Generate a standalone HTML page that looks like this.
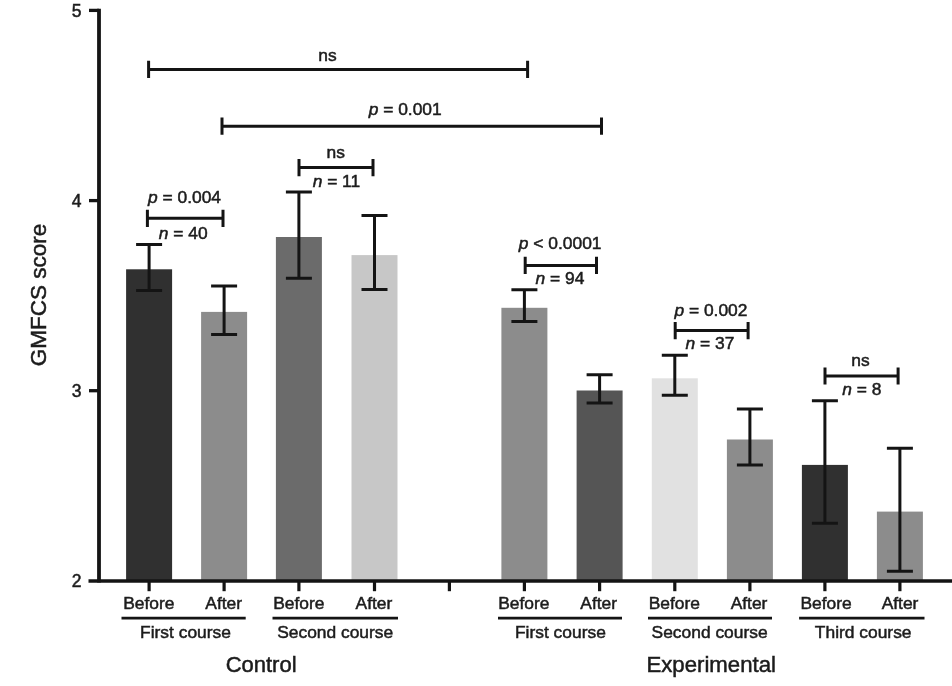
<!DOCTYPE html>
<html><head><meta charset="utf-8"><title>GMFCS score</title>
<style>
html,body{margin:0;padding:0;background:#fff;}
body{width:952px;height:686px;overflow:hidden;}
svg{display:block;}
text{font-family:"Liberation Sans",Arial,sans-serif;fill:#1c1c1c;stroke:#1c1c1c;stroke-width:0.5;}
.l{stroke:#141414;fill:none;}
</style></head><body>
<svg width="952" height="686" viewBox="0 0 952 686">
<rect width="952" height="686" fill="#fff"/>

<rect x="126.1" y="269.3" width="46" height="311.7" fill="#303030"/>
<rect x="201.1" y="311.9" width="46" height="269.1" fill="#8c8c8c"/>
<rect x="275.9" y="237.0" width="46" height="344.0" fill="#6b6b6b"/>
<rect x="351.5" y="255.1" width="46" height="325.9" fill="#c7c7c7"/>
<rect x="501.4" y="307.8" width="46" height="273.2" fill="#8c8c8c"/>
<rect x="576.6" y="390.5" width="46" height="190.5" fill="#555555"/>
<rect x="651.8" y="378.3" width="46" height="202.7" fill="#e1e1e1"/>
<rect x="726.9" y="439.5" width="46" height="141.5" fill="#8c8c8c"/>
<rect x="801.9" y="464.9" width="46" height="116.1" fill="#303030"/>
<rect x="876.9" y="511.6" width="46" height="69.4" fill="#8c8c8c"/>
<path class="l" d="M149.1 244.5V290.5M136.1 244.5H162.1M136.1 290.5H162.1" stroke-width="3"/>
<path class="l" d="M224.1 285.9V334.6M211.1 285.9H237.1M211.1 334.6H237.1" stroke-width="3"/>
<path class="l" d="M298.9 192.1V278.3M285.9 192.1H311.9M285.9 278.3H311.9" stroke-width="3"/>
<path class="l" d="M374.5 215.4V289.5M361.5 215.4H387.5M361.5 289.5H387.5" stroke-width="3"/>
<path class="l" d="M524.4 289.7V321.6M511.4 289.7H537.4M511.4 321.6H537.4" stroke-width="3"/>
<path class="l" d="M599.6 374.7V403.1M586.6 374.7H612.6M586.6 403.1H612.6" stroke-width="3"/>
<path class="l" d="M674.8 355.3V395.3M661.8 355.3H687.8M661.8 395.3H687.8" stroke-width="3"/>
<path class="l" d="M749.9 408.9V465.1M736.9 408.9H762.9M736.9 465.1H762.9" stroke-width="3"/>
<path class="l" d="M824.9 400.8V523.2M811.9 400.8H837.9M811.9 523.2H837.9" stroke-width="3"/>
<path class="l" d="M899.9 448.3V571.3M886.9 448.3H912.9M886.9 571.3H912.9" stroke-width="3"/>
<path class="l" d="M99 8.7V582.6" stroke-width="3.8"/>
<path class="l" d="M88.5 581.0H952" stroke-width="3.6"/>
<path class="l" d="M89 10.4H99" stroke-width="3.3"/>
<path class="l" d="M89 200.6H99" stroke-width="3.3"/>
<path class="l" d="M89 390.7H99" stroke-width="3.3"/>
<path class="l" d="M149.1 581.0V591.2" stroke-width="3.2"/>
<path class="l" d="M224.1 581.0V591.2" stroke-width="3.2"/>
<path class="l" d="M298.9 581.0V591.2" stroke-width="3.2"/>
<path class="l" d="M374.5 581.0V591.2" stroke-width="3.2"/>
<path class="l" d="M449.4 581.0V591.2" stroke-width="3.2"/>
<path class="l" d="M524.4 581.0V591.2" stroke-width="3.2"/>
<path class="l" d="M599.6 581.0V591.2" stroke-width="3.2"/>
<path class="l" d="M674.8 581.0V591.2" stroke-width="3.2"/>
<path class="l" d="M749.9 581.0V591.2" stroke-width="3.2"/>
<path class="l" d="M824.9 581.0V591.2" stroke-width="3.2"/>
<path class="l" d="M899.9 581.0V591.2" stroke-width="3.2"/>
<text x="81.6" y="16.5" font-size="17.5" text-anchor="end">5</text>
<text x="81.6" y="206.7" font-size="17.5" text-anchor="end">4</text>
<text x="81.6" y="396.8" font-size="17.5" text-anchor="end">3</text>
<text x="81.6" y="587.1" font-size="17.5" text-anchor="end">2</text>
<text transform="translate(46.4,295.1) rotate(-90)" font-size="22.5" text-anchor="middle">GMFCS score</text>
<path class="l" d="M148.6 69.4H527.6M148.6 60.8V78.0M527.6 60.8V78.0" stroke-width="3"/>
<text x="327.5" y="60.5" font-size="17.4" text-anchor="middle">ns</text>
<path class="l" d="M222.0 126.2H601.5M222.0 117.6V134.8M601.5 117.6V134.8" stroke-width="3"/>
<text x="405.2" y="114.7" font-size="17.4" text-anchor="middle"><tspan font-style="italic">p</tspan> = 0.001</text>
<path class="l" d="M147.4 218.3H223.0M147.4 209.7V226.9M223.0 209.7V226.9" stroke-width="3"/>
<text x="184.5" y="203.0" font-size="17.4" text-anchor="middle"><tspan font-style="italic">p</tspan> = 0.004</text>
<text x="183.2" y="238.7" font-size="17.4" text-anchor="middle"><tspan font-style="italic">n</tspan> = 40</text>
<path class="l" d="M299.0 167.6H373.0M299.0 159.0V176.2M373.0 159.0V176.2" stroke-width="3"/>
<text x="335.7" y="157.5" font-size="17.4" text-anchor="middle">ns</text>
<text x="336.4" y="186.5" font-size="17.4" text-anchor="middle"><tspan font-style="italic">n</tspan> = 11</text>
<path class="l" d="M525.2 265.4H596.5M525.2 256.8V274.0M596.5 256.8V274.0" stroke-width="3"/>
<text x="560.2" y="249.3" font-size="17.4" text-anchor="middle"><tspan font-style="italic">p</tspan> &lt; 0.0001</text>
<text x="559.9" y="284.0" font-size="17.4" text-anchor="middle"><tspan font-style="italic">n</tspan> = 94</text>
<path class="l" d="M675.2 330.6H748.1M675.2 322.0V339.2M748.1 322.0V339.2" stroke-width="3"/>
<text x="710.9" y="315.6" font-size="17.4" text-anchor="middle"><tspan font-style="italic">p</tspan> = 0.002</text>
<text x="709.9" y="349.3" font-size="17.4" text-anchor="middle"><tspan font-style="italic">n</tspan> = 37</text>
<path class="l" d="M825.0 376.0H898.1M825.0 367.4V384.6M898.1 367.4V384.6" stroke-width="3"/>
<text x="860.5" y="365.9" font-size="17.4" text-anchor="middle">ns</text>
<text x="861.8" y="394.9" font-size="17.4" text-anchor="middle"><tspan font-style="italic">n</tspan> = 8</text>
<text x="148.9" y="609.0" font-size="17.4" text-anchor="middle">Before</text>
<text x="223.7" y="609.0" font-size="17.4" text-anchor="middle">After</text>
<text x="298.8" y="609.0" font-size="17.4" text-anchor="middle">Before</text>
<text x="373.9" y="609.0" font-size="17.4" text-anchor="middle">After</text>
<text x="523.9" y="609.0" font-size="17.4" text-anchor="middle">Before</text>
<text x="598.7" y="609.0" font-size="17.4" text-anchor="middle">After</text>
<text x="674.3" y="609.0" font-size="17.4" text-anchor="middle">Before</text>
<text x="749.0" y="609.0" font-size="17.4" text-anchor="middle">After</text>
<text x="826.0" y="609.0" font-size="17.4" text-anchor="middle">Before</text>
<text x="900.0" y="609.0" font-size="17.4" text-anchor="middle">After</text>
<path class="l" d="M121.5 618.1H245.7" stroke-width="2.9"/>
<text x="185.5" y="637.5" font-size="17.4" text-anchor="middle">First course</text>
<path class="l" d="M272.5 618.1H398.0" stroke-width="2.9"/>
<text x="335.2" y="637.5" font-size="17.4" text-anchor="middle">Second course</text>
<path class="l" d="M498.0 618.1H622.0" stroke-width="2.9"/>
<text x="560.4" y="637.5" font-size="17.4" text-anchor="middle">First course</text>
<path class="l" d="M648.0 618.1H772.0" stroke-width="2.9"/>
<text x="709.6" y="637.5" font-size="17.4" text-anchor="middle">Second course</text>
<path class="l" d="M799.1 618.1H924.5" stroke-width="2.9"/>
<text x="863.2" y="637.5" font-size="17.4" text-anchor="middle">Third course</text>
<text x="261.1" y="671.8" font-size="22" text-anchor="middle">Control</text>
<text x="711.2" y="671.5" font-size="22.2" text-anchor="middle">Experimental</text>
</svg></body></html>
